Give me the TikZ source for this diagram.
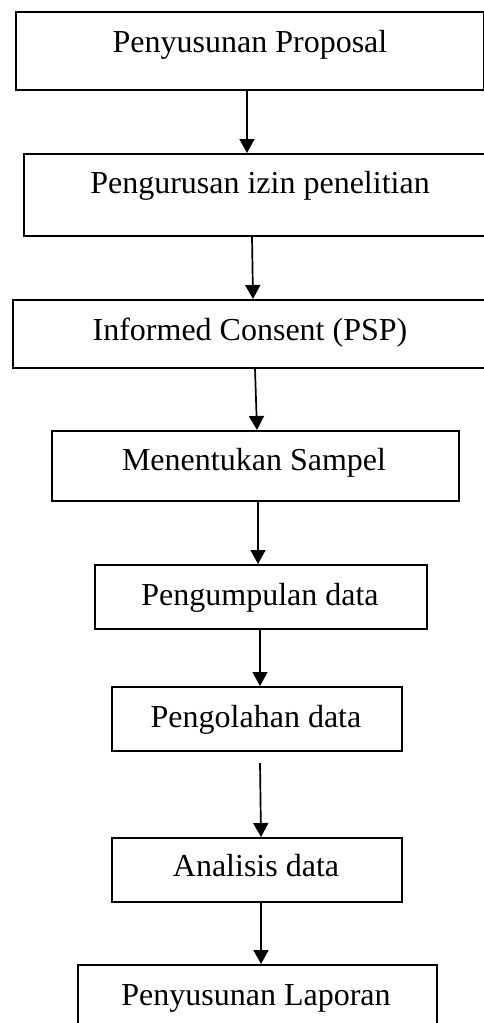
\documentclass[tikz,border=0pt]{standalone}
\usepackage{fontspec}
\setmainfont{Liberation Serif}
\usetikzlibrary{arrows.meta}
\begin{document}
\begin{tikzpicture}[x=1pt,y=-1pt,
  box/.style={draw=black,line width=1.7pt,rectangle,inner sep=0pt},
  txt/.style={anchor=base,inner sep=0pt,font=\fontsize{32}{38}\selectfont},
  arr/.style={draw=black,line width=1.7pt,-{Triangle[width=15pt,length=14pt]}}]
\clip (0,0) rectangle (484,1023);
\fill[white] (0,0) rectangle (484,1023);
% boxes
\node[box,anchor=north west,minimum width=468pt,minimum height=78pt] (b1) at (15,11) {};
\node[box,anchor=north west,minimum width=490pt,minimum height=82pt] (b2) at (23,153) {};
\node[box,anchor=north west,minimum width=500pt,minimum height=68pt] (b3) at (12,299) {};
\node[box,anchor=north west,minimum width=407pt,minimum height=70pt] (b4) at (51,430) {};
\node[box,anchor=north west,minimum width=332pt,minimum height=64pt] (b5) at (94,564) {};
\node[box,anchor=north west,minimum width=290pt,minimum height=64pt] (b6) at (111,686) {};
\node[box,anchor=north west,minimum width=290pt,minimum height=64pt] (b7) at (111,837) {};
\node[box,anchor=north west,minimum width=359pt,minimum height=80pt] (b8) at (77,964) {};
% texts
\node[txt] (t1) at (250,52) {Penyusunan Proposal};
\node[txt] (t2) at (260,193) {Pengurusan izin penelitian};
\node[txt] (t3) at (250,340) {Informed Consent (PSP)};
\node[txt] (t4) at (254,470) {Menentukan Sampel};
\node[txt] (t5) at (260,605) {Pengumpulan data};
\node[txt] (t6) at (256,727) {Pengolahan data};
\node[txt] (t7) at (256,876) {Analisis data};
\node[txt] (t8) at (256,1005) {Penyusunan Laporan};
% connectors
\draw[arr] (b1.south -| 247,0) -- (b2.north -| 247,0);
\draw[arr] (b2.south -| 252,0) -- (b3.north -| 253,0);
\draw[arr] (b3.south -| 255,0) -- (b4.north -| 257,0);
\draw[arr] (b4.south -| 258,0) -- (b5.north -| 258,0);
\draw[arr] (b5.south -| 260,0) -- (b6.north -| 260,0);
\coordinate (c6) at (260,763);
\draw[arr] (c6) -- (b7.north -| 261,0);
\draw[arr] (b7.south -| 261,0) -- (b8.north -| 261,0);
\end{tikzpicture}
\end{document}
